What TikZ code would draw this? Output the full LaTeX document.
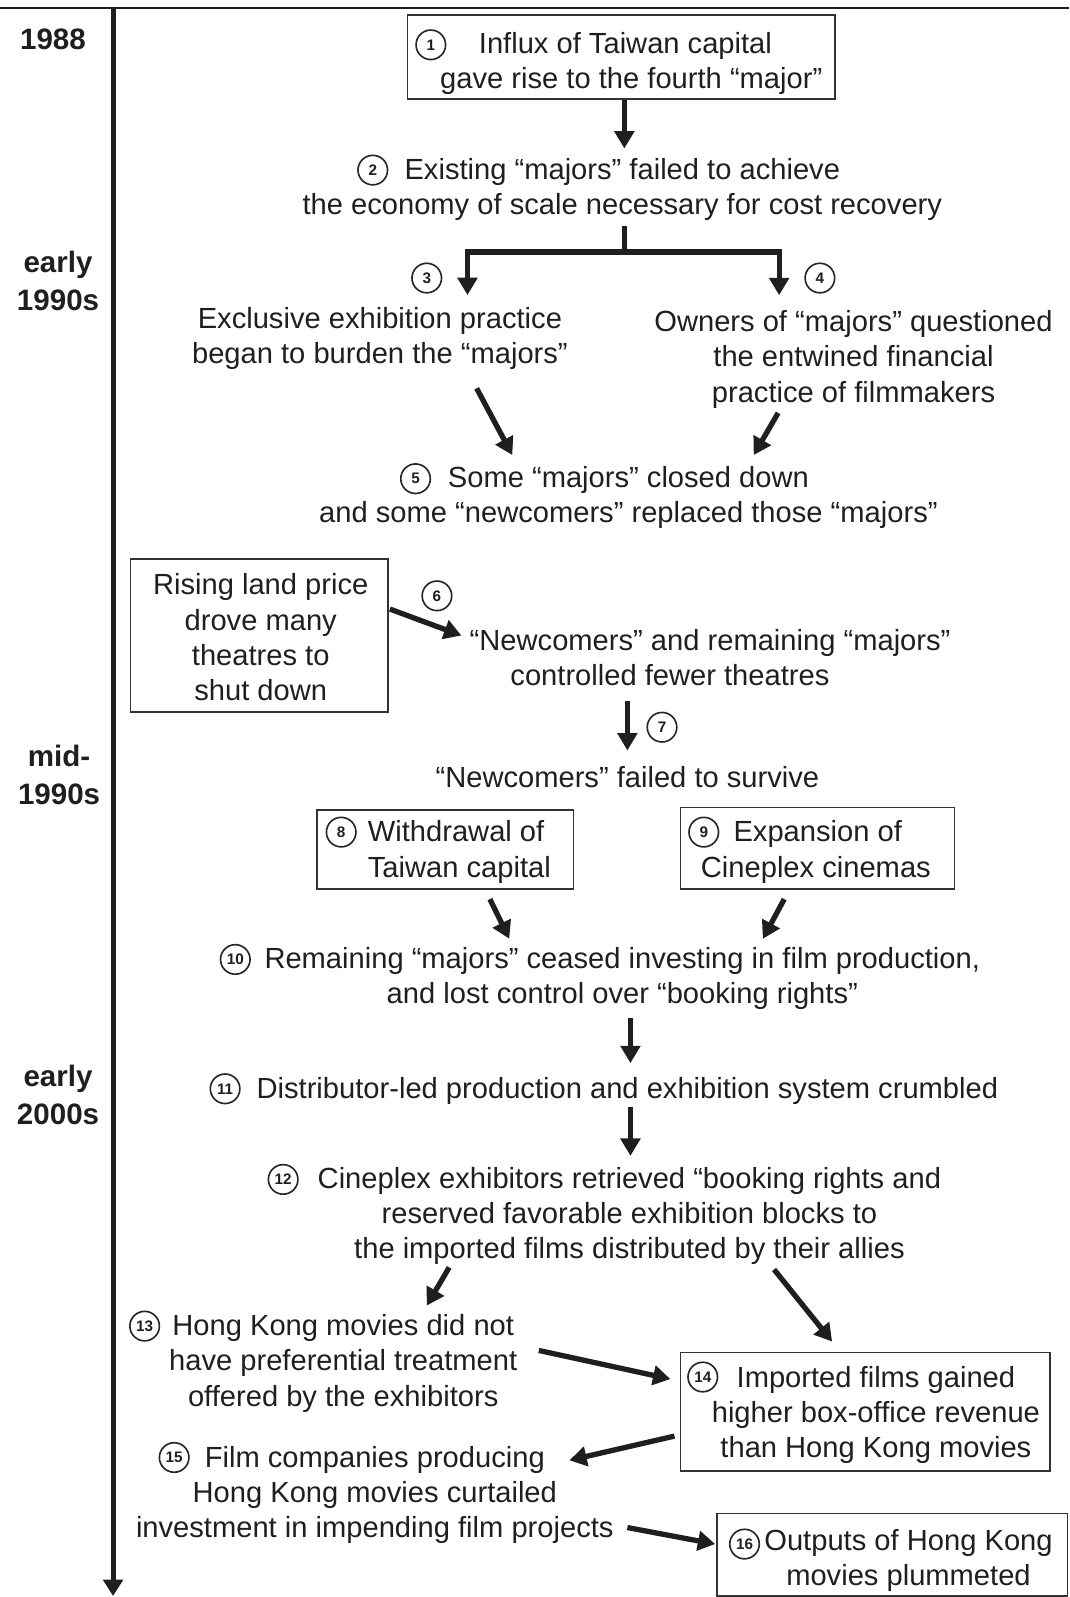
\documentclass[tikz,border=0pt]{standalone}
\usepackage{fontspec}
\setmainfont{Liberation Sans}
\usetikzlibrary{arrows.meta,calc}
\begin{document}
\begin{tikzpicture}[x=1pt,y=-1pt,
  txt/.style={font=\fontsize{28.6}{34.6}\selectfont, inner sep=0pt, align=center, text=black!88},
  txl/.style={txt, align=left},
  boxed/.style={draw=black!80, line width=1.6pt, inner sep=0pt},
  num/.style={circle, draw=black!85, line width=1.6pt, minimum size=29pt, inner sep=0pt, font=\bfseries\fontsize{15}{15}\selectfont, text=black!88},
  arr/.style={line width=5.2pt, draw=black!88, -{Triangle[length=17pt,width=19pt]}},
  yr/.style={font=\bfseries\fontsize{29}{37}\selectfont, inner sep=0pt, align=center, text=black!88}]
\useasboundingbox (0,0) rectangle (1050,1568);

% timeline
\coordinate (tl) at (0,8);
\coordinate (tr) at (1050,8);
\coordinate (axtop) at (111,8);
\coordinate (axbot) at (111,1567);
\draw[line width=2pt, black!88] (tl) -- (tr);
\draw[line width=5pt, draw=black!88, -{Triangle[length=16pt,width=19pt]}] (axtop) -- (axbot);

% years
\node[yr] (y1988) at (52,41.6) {\strut 1988};
\node[yr] (yE90) at (57,279) {\strut early\\\strut 1990s};
\node[yr] (yM90) at (58,763.6) {\strut mid-\\\strut 1990s};
\node[yr] (yE00) at (57,1078) {\strut early\\\strut 2000s};

% 1
\node[boxed, minimum width=420pt, minimum height=82pt] (b1) at (610,56) {};
\node[txl, anchor=west] (t1) at (432,62.5) {\strut\hspace*{38pt}Influx of Taiwan capital\\\strut gave rise to the fourth “major”};
\node[num] (c1) at (423,44) {1};

% 2
\node[txt] (t2) at (611,186.5) {\strut Existing “majors” failed to achieve\\\strut the economy of scale necessary for cost recovery};
\node[num] (c2) at (366,167) {2};

% 3, 4
\node[txt] (t3) at (373,332.5) {\strut Exclusive exhibition practice\\\strut began to burden the “majors”};
\node[num] (c3) at (419,273) {3};
\node[txt] (t4) at (838,353.3) {\strut Owners of “majors” questioned\\\strut the entwined financial\\\strut practice of filmmakers};
\node[num] (c4) at (805,273) {4};

% 5
\node[txt] (t5) at (617,489) {\strut Some “majors” closed down\\\strut and some “newcomers” replaced those “majors”};
\node[num] (c5) at (408,470) {5};

% 6
\node[boxed, minimum width=253pt, minimum height=150pt] (b6) at (254.5,624) {};
\node[txt] (tb6) at (256,629) {\strut Rising land price\\\strut drove many\\\strut theatres to\\\strut shut down};
\node[num] (c6) at (429,585) {6};
\node[txl, anchor=west] (t6) at (461,648.7) {\strut “Newcomers” and remaining “majors”\\\strut\hspace*{40pt}controlled fewer theatres};

% 7
\node[txt] (t7) at (616,766) {\strut “Newcomers” failed to survive};
\node[num] (c7) at (650,714) {7};

% 8, 9
\node[boxed, minimum width=252pt, minimum height=78pt] (b8) at (437,834) {};
\node[txl, anchor=west] (t8) at (361,837) {\strut Withdrawal of\\\strut Taiwan capital};
\node[num] (c8) at (335,817) {8};
\node[boxed, minimum width=269pt, minimum height=80pt] (b9) at (802.5,833) {};
\node[txl, anchor=west] (t9) at (688,837) {\strut\hspace*{32pt}Expansion of\\\strut Cineplex cinemas};
\node[num] (c9) at (691,817) {9};

% 10, 11, 12
\node[txt] (t10) at (611,961.5) {\strut Remaining “majors” ceased investing in film production,\\\strut and lost control over “booking rights”};
\node[num] (c10) at (231,942) {10};
\node[txt] (t11) at (616,1072) {\strut Distributor-led production and exhibition system crumbled};
\node[num] (c11) at (221,1069) {11};
\node[txt] (t12) at (618,1194.3) {\strut Cineplex exhibitors retrieved “booking rights and\\\strut reserved favorable exhibition blocks to\\\strut the imported films distributed by their allies};
\node[num] (c12) at (278,1158) {12};

% 13, 14
\node[txt] (t13) at (337,1339) {\strut Hong Kong movies did not\\\strut have preferential treatment\\\strut offered by the exhibitors};
\node[num] (c13) at (142,1302) {13};
\node[boxed, minimum width=363pt, minimum height=116pt] (b14) at (849.5,1386) {};
\node[txt] (t14) at (860,1389.7) {\strut Imported films gained\\\strut higher box-office revenue\\\strut than Hong Kong movies};
\node[num] (c14) at (690,1352) {14};

% 15, 16
\node[txt] (t15) at (368,1468.3) {\strut Film companies producing\\\strut Hong Kong movies curtailed\\\strut investment in impending film projects};
\node[num] (c15) at (171,1431) {15};
\node[boxed, minimum width=344pt, minimum height=81pt] (b16) at (876,1526.5) {};
\node[txt] (t16) at (892,1532.5) {\strut Outputs of Hong Kong\\\strut movies plummeted};
\node[num] (c16) at (731,1516) {16};

% connectors
\draw[arr] (b1.south -| t2.north) ++(2,0) -- ($(b1.south -| t2.north)+(2,48)$);
\coordinate (br) at ($(t2.south)+(2,26)$);
\draw[line width=5.2pt, draw=black!88] ($(t2.south)+(2,1)$) -- (br);
\draw[arr] (br) -| ($(t3.north)+(86,-8)$);
\draw[arr] (br) -| ($(t4.north)+(-73,-11.4)$);
\draw[arr] ($(t3.south)+(95,14)$) -- ($(t5.north)+(-114,-7.4)$);
\draw[arr] ($(t4.south)+(-74,0)$) -- ($(t5.north)+(123,-7.4)$);
\draw[arr] ($(b6.east)+(1,-26)$) -- ($(t6.west)+(-8,-24.7)$);
\draw[arr] ($(t6.south -| t7.north)+(0,5)$) -- ($(t7.north)+(0,-11.7)$);
\draw[arr] ($(b8.south)+(44,9)$) -- ($(t10.north)+(-111,-5)$);
\draw[arr] ($(b9.south)+(-32.5,9)$) -- ($(t10.north)+(138,-5)$);
\draw[arr] ($(t10.south)+(8,3)$) -- ($(t11.north)+(3,-10.7)$);
\draw[arr] ($(t11.south)+(3,-3)$) -- ($(t12.north)+(1,-7.4)$);
\draw[arr] ($(t12.south)+(-177,-2)$) -- ($(t13.north)+(82,-5)$);
\draw[arr] ($(t12.south)+(142,0)$) -- ($(b14.north)+(-32.5,-10)$);
\draw[arr] ($(t13.north)+(192,39)$) -- ($(b14.west)+(-9,-32)$);
\draw[arr] ($(b14.west)+(-5,24)$) -- ($(t15.north)+(191,17.6)$);
\draw[arr] ($(t15.north)+(248,83.6)$) -- ($(b16.west)+(-1,-10.5)$);
\end{tikzpicture}
\end{document}
